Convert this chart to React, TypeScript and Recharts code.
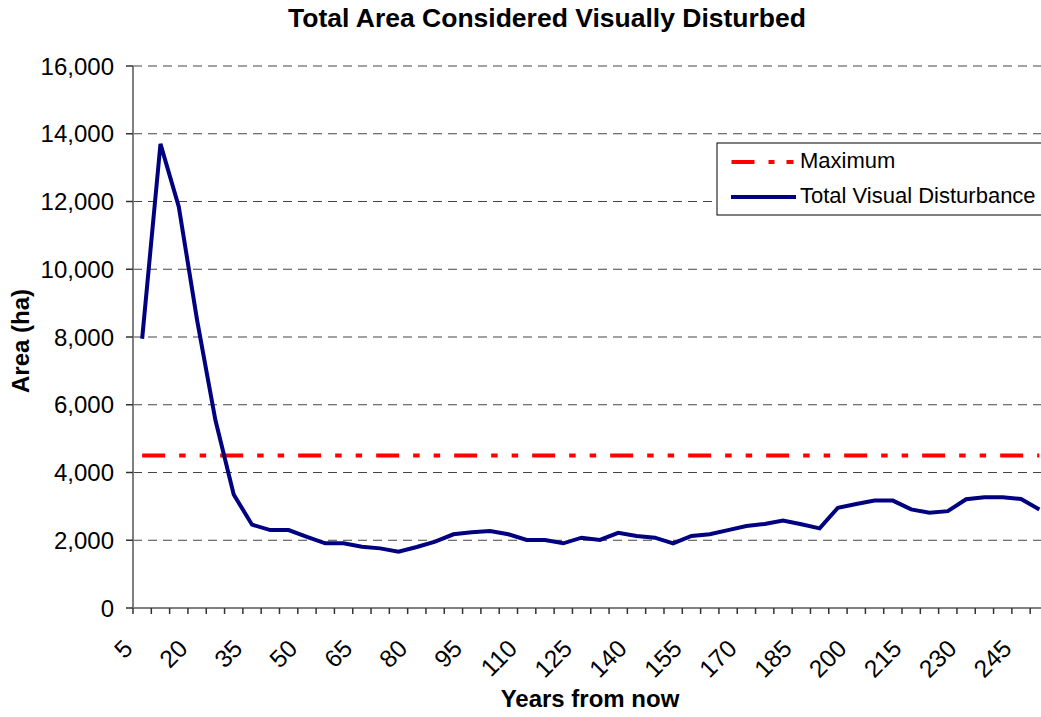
import React from 'react';
import { LineChart, Line, XAxis, YAxis, CartesianGrid } from 'recharts';

const FONT = '"Liberation Sans", Arial, sans-serif';

// Categories: years from now
const years = [
  5, 10, 15, 20, 25, 30, 35, 40, 45, 50,
  55, 60, 65, 70, 75, 80, 85, 90, 95, 100,
  105, 110, 115, 120, 125, 130, 135, 140, 145, 150,
  155, 160, 165, 170, 175, 180, 185, 190, 195, 200,
  205, 210, 215, 220, 225, 230, 235, 240, 245, 250,
];

// Total Visual Disturbance (ha)
const totalVisual = [
  7950, 13700, 11850, 8500, 5550, 3350, 2460, 2300, 2300, 2100,
  1910, 1910, 1810, 1760, 1660, 1800, 1960, 2175, 2235, 2270,
  2175, 2010, 2010, 1910, 2075, 2010, 2220, 2125, 2075, 1910,
  2125, 2175, 2300, 2420, 2480, 2580, 2470, 2350, 2960, 3070,
  3170, 3170, 2910, 2810, 2860, 3210, 3270, 3270, 3220, 2910,
];

// Maximum (ha)
const maximum = [
  4500, 4500, 4500, 4500, 4500, 4500, 4500, 4500, 4500, 4500,
  4500, 4500, 4500, 4500, 4500, 4500, 4500, 4500, 4500, 4500,
  4500, 4500, 4500, 4500, 4500, 4500, 4500, 4500, 4500, 4500,
  4500, 4500, 4500, 4500, 4500, 4500, 4500, 4500, 4500, 4500,
  4500, 4500, 4500, 4500, 4500, 4500, 4500, 4500, 4500, 4500,
];

// Tick labels
const xTickLabels = [5, 20, 35, 50, 65, 80, 95, 110, 125, 140, 155, 170, 185, 200, 215, 230, 245];
const yTicks = [0, 2000, 4000, 6000, 8000, 10000, 12000, 14000, 16000];

const data = years.map((y, i) => ({ idx: i, year: y, total: totalVisual[i], max: maximum[i] }));

const boundaryTicks = [...years.map((_, i) => i - 0.5), years.length - 0.5];
const labelTicks = xTickLabels.map((l) => years.indexOf(l));
const xTicks = [...boundaryTicks, ...labelTicks].sort((a, b) => a - b);

const XTick = (props: any) => {
  const { x, y, payload } = props;
  const v = payload.value as number;
  if (Math.abs(v - Math.round(v)) > 0.1) {
    return <line x1={x} y1={y} x2={x} y2={y + 6} stroke="#333" strokeWidth={1.5} />;
  }
  const ax = x - 8;
  const ay = y + 42;
  return (
    <text
      x={ax}
      y={ay}
      textAnchor="end"
      fontSize={24.5}
      fontFamily={FONT}
      fill="#000"
      transform={`rotate(-45 ${ax} ${ay})`}
    >
      {years[Math.round(v)]}
    </text>
  );
};

export default function App() {
  return (
    <div
      style={{
        position: 'fixed',
        left: 0,
        top: 0,
        width: 1041,
        height: 717,
        overflow: 'hidden',
        background: '#fff',
      }}
    >
      <LineChart
        width={1060}
        height={717}
        data={data}
        margin={{ top: 66, right: 11.5, bottom: 0, left: 0 }}
      >
        <CartesianGrid horizontal vertical={false} strokeDasharray="9 6" stroke="#444" />
        <XAxis
          type="number"
          dataKey="idx"
          domain={[-0.5, years.length - 0.5]}
          ticks={xTicks}
          interval={0}
          height={109}
          tickSize={0}
          tickMargin={0}
          tickLine={false}
          axisLine={{ stroke: '#808080', strokeWidth: 2 }}
          tick={(p: any) => <XTick {...p} />}
        />
        <YAxis
          width={133}
          domain={[0, 16000]}
          ticks={yTicks}
          interval={0}
          tickSize={7}
          tickMargin={12}
          tickFormatter={(v: number) => v.toLocaleString('en-US')}
          tick={{ fill: '#000', fontSize: 24, fontFamily: FONT }}
          tickLine={{ stroke: '#333', strokeWidth: 1.5 }}
          axisLine={{ stroke: '#808080', strokeWidth: 2 }}
        />
        <Line
          dataKey="max"
          stroke="#FF0000"
          strokeWidth={4}
          strokeDasharray="23 14 6.5 14 6.5 14"
          dot={false}
          activeDot={false}
          isAnimationActive={false}
        />
        <Line
          dataKey="total"
          stroke="#000080"
          strokeWidth={4}
          dot={false}
          activeDot={false}
          isAnimationActive={false}
        />
      </LineChart>
      <svg
        width={1041}
        height={717}
        style={{ position: 'absolute', left: 0, top: 0, pointerEvents: 'none' }}
      >
        <text x={547} y={27} textAnchor="middle" fontFamily={FONT} fontWeight="bold" fontSize={26.5} fill="#000">
          Total Area Considered Visually Disturbed
        </text>
        <text x={590} y={707} textAnchor="middle" fontFamily={FONT} fontWeight="bold" fontSize={24} fill="#000">
          Years from now
        </text>
        <text
          x={29}
          y={341}
          textAnchor="middle"
          fontFamily={FONT}
          fontWeight="bold"
          fontSize={24}
          fill="#000"
          transform="rotate(-90 29 341)"
        >
          Area (ha)
        </text>
        <rect x={717} y={143} width={400} height={72} fill="#fff" stroke="#000" strokeWidth={1} />
        <line x1={731.5} y1={162} x2={795} y2={162} stroke="#FF0000" strokeWidth={4} strokeDasharray="23 14 6 12 7 100" />
        <text x={800} y={168} fontFamily={FONT} fontSize={22} fill="#000">Maximum</text>
        <line x1={731} y1={197} x2={796} y2={197} stroke="#000080" strokeWidth={4} />
        <text x={800} y={203} fontFamily={FONT} fontSize={22} fill="#000">Total Visual Disturbance</text>
      </svg>
    </div>
  );
}
